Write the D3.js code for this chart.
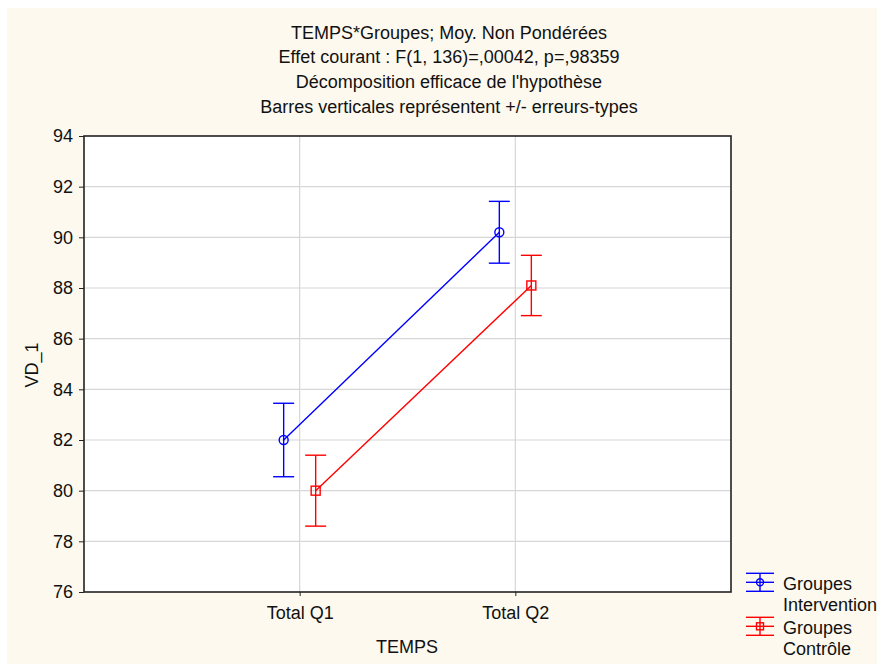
<!DOCTYPE html>
<html><head><meta charset="utf-8">
<script src="https://cdn.jsdelivr.net/npm/d3@7"></script>
<style>body{margin:0;background:#fff}svg{display:block}text{font-family:"Liberation Sans",Arial,sans-serif;fill:#111}</style>
</head><body><svg id="c" width="877" height="664"></svg>
<script>
const titleLines = ["TEMPS*Groupes; Moy. Non Pondérées","Effet courant : F(1, 136)=,00042, p=,98359","Décomposition efficace de l'hypothèse","Barres verticales représentent +/- erreurs-types"];
const categories = ["Total Q1","Total Q2"];
const seriesNames = [["Groupes","Intervention"],["Groupes","Contrôle"]];
const seriesColors = ["#0000ff","#ff0000"];
const meansIntervention = [82.0, 90.2];
const errIntervention = [1.45, 1.22];
const meansControle = [80.0, 88.1];
const errControle = [1.4, 1.19];
const yTicks = [76,78,80,82,84,86,88,90,92,94];
const series = [
  {name: seriesNames[0], color: seriesColors[0], means: meansIntervention, err: errIntervention, marker: "circle", off: -16},
  {name: seriesNames[1], color: seriesColors[1], means: meansControle, err: errControle, marker: "square", off: 16}
];
const FS = "18px";
const svg = d3.select("#c");
svg.append("rect").attr("x",7).attr("y",8).attr("width",870).attr("height",656).attr("fill","#fdf9ef");
const L=84,R=731,T=136,B=592;
const x = d3.scalePoint().domain(["",...categories,"  "]).range([L,R]);
const y = d3.scaleLinear().domain([76,94]).range([B,T]);
svg.append("rect").attr("x",L).attr("y",T).attr("width",R-L).attr("height",B-T).attr("fill","#fff");
// grid
svg.append("g").selectAll("line").data(yTicks.slice(1,-1)).join("line")
  .attr("x1",L).attr("x2",R).attr("y1",d=>y(d)).attr("y2",d=>y(d)).attr("stroke","#d6d6d6").attr("stroke-width",1.2);
svg.append("g").selectAll("line").data(categories).join("line")
  .attr("x1",d=>x(d)).attr("x2",d=>x(d)).attr("y1",T).attr("y2",B).attr("stroke","#d6d6d6").attr("stroke-width",1.2);
// axes
const ya = svg.append("g").attr("transform",`translate(${L},0)`).call(d3.axisLeft(y).tickValues(yTicks).tickSize(5).tickPadding(6));
ya.select(".domain").remove();
ya.selectAll("line").attr("stroke","#222");
ya.selectAll("text").attr("font-size",FS).attr("fill","#111").attr("font-family","Liberation Sans, Arial, sans-serif");
const xa = svg.append("g").attr("transform",`translate(0,${B})`).call(d3.axisBottom(x).tickValues(categories).tickSize(4).tickPadding(10));
xa.select(".domain").remove();
xa.selectAll("line").attr("stroke","#222");
xa.selectAll("text").attr("font-size",FS).attr("fill","#111").attr("font-family","Liberation Sans, Arial, sans-serif");
svg.append("rect").attr("x",L).attr("y",T).attr("width",R-L).attr("height",B-T).attr("fill","none").attr("stroke","#222").attr("stroke-width",1.6);
// titles
svg.append("g").selectAll("text").data(titleLines).join("text")
  .attr("x",449).attr("y",(d,i)=>38.5+i*24.7).attr("text-anchor","middle").attr("font-size",FS).text(d=>d);
svg.append("text").attr("x",407).attr("y",653).attr("text-anchor","middle").attr("font-size",FS).text("TEMPS");
svg.append("text").attr("transform","translate(37.5,365) rotate(-90)").attr("text-anchor","middle").attr("font-size",FS).text("VD_1");
// series
const cap = 10.5;
series.forEach(s=>{
  const g = svg.append("g").attr("stroke",s.color).attr("fill","none").attr("stroke-width",1.4);
  const pts = categories.map((c,i)=>[x(c)+s.off, y(s.means[i]), s.means[i], s.err[i]]);
  g.append("path").attr("d",d3.line()(pts.map(p=>[p[0],p[1]])));
  pts.forEach(p=>{
    const yt=y(p[2]+p[3]), yb=y(p[2]-p[3]);
    g.append("line").attr("x1",p[0]).attr("x2",p[0]).attr("y1",yt).attr("y2",yb);
    g.append("line").attr("x1",p[0]-cap).attr("x2",p[0]+cap).attr("y1",yt).attr("y2",yt);
    g.append("line").attr("x1",p[0]-cap).attr("x2",p[0]+cap).attr("y1",yb).attr("y2",yb);
    if(s.marker==="circle") g.append("circle").attr("cx",p[0]).attr("cy",p[1]).attr("r",4.5);
    else g.append("rect").attr("x",p[0]-4.5).attr("y",p[1]-4.5).attr("width",9).attr("height",9);
  });
});
// legend
series.forEach((s,i)=>{
  const cy = 582.3 + i*44;
  const g = svg.append("g").attr("stroke",s.color).attr("fill","none").attr("stroke-width",1.4);
  [-9,0,9].forEach(dy=>g.append("line").attr("x1",746).attr("x2",774).attr("y1",cy+dy).attr("y2",cy+dy));
  g.append("line").attr("x1",760).attr("x2",760).attr("y1",cy-9).attr("y2",cy+9);
  if(s.marker==="circle") g.append("circle").attr("cx",760).attr("cy",cy).attr("r",3.5);
  else g.append("rect").attr("x",756.5).attr("y",cy-3.5).attr("width",7).attr("height",7);
  svg.append("text").attr("x",783).attr("y",590+i*44).attr("font-size",FS).text(s.name[0]);
  svg.append("text").attr("x",783).attr("y",611+i*44).attr("font-size",FS).text(s.name[1]);
});
</script></body></html>
